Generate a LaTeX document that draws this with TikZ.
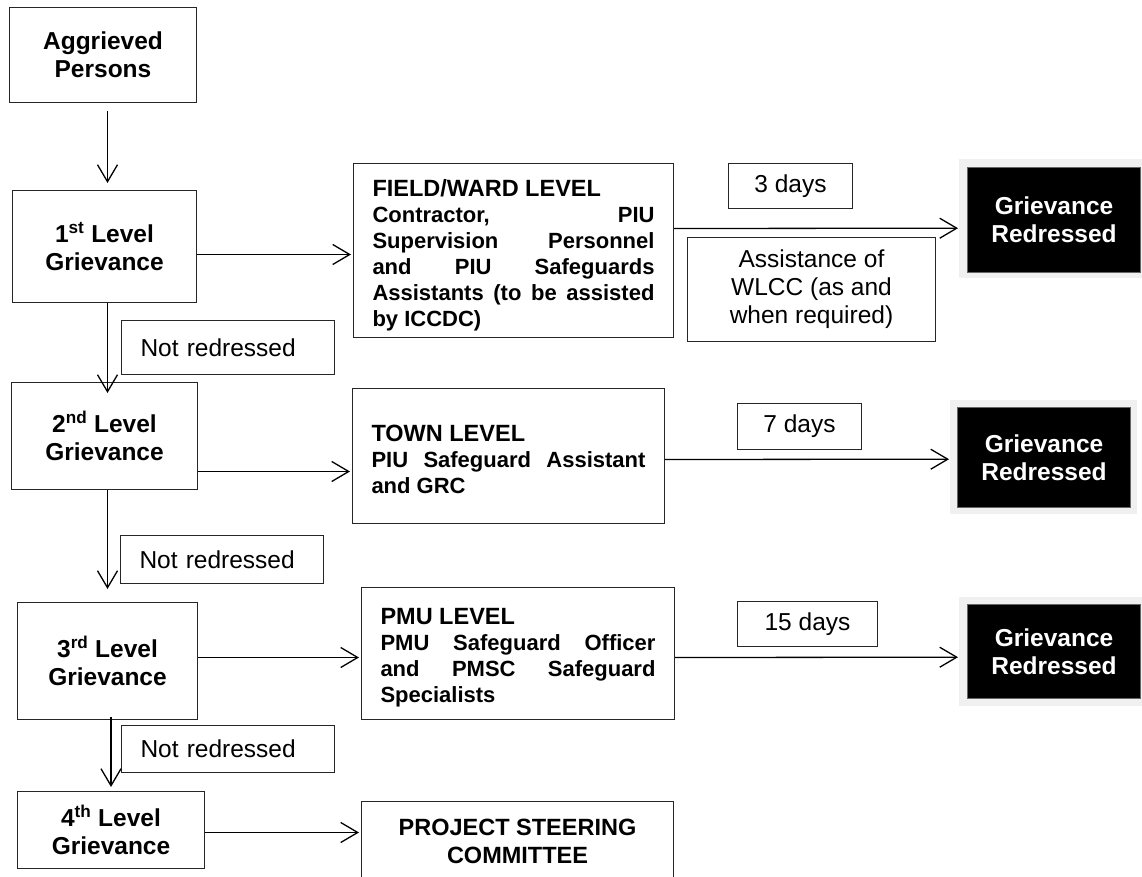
\documentclass[tikz,border=0pt]{standalone}
\usepackage{fontspec}
\setmainfont{Liberation Sans}
\usetikzlibrary{arrows.meta}
\newcommand\jl[1]{\makebox[\linewidth][s]{#1}\\}
\begin{document}
\begin{tikzpicture}[x=1pt,y=-1pt,
  box/.style={draw=black!85, line width=1pt, inner sep=0pt, anchor=north west, align=center},
  lvl/.style={box, font=\bfseries\fontsize{24.5}{28}\selectfont},
  lbl/.style={box, font=\fontsize{24.5}{28}\selectfont},
  nr/.style={box, font=\fontsize{24.5}{28}\selectfont, text width=#1, align=left, inner xsep=19pt},
  arr/.style={line width=1.3pt, -{Straight Barb[length=17pt,width=20pt,line width=1.3pt]}},
  frame/.style={fill=black!6, draw=none, inner sep=0pt, anchor=north west},
  blk/.style={fill=black, draw=black!60, line width=1pt, text=white, inner sep=0pt, anchor=north west, align=center, font=\bfseries\fontsize{24.5}{28}\selectfont},
  body/.style={font=\bfseries\fontsize{22}{26}\selectfont}
]
\useasboundingbox (0,0) rectangle (1142,877);
\clip (0,0) rectangle (1142,877);

% left column
\node[lvl, minimum width=187pt, minimum height=95pt] (A) at (9,7) {Aggrieved\\Persons};
\node[lvl, minimum width=184pt, minimum height=112pt] (L1) at (12,190) {1\textsuperscript{st} Level\\Grievance};
\node[lvl, minimum width=186pt, minimum height=107pt] (L2) at (11,382) {2\textsuperscript{nd} Level\\Grievance};
\node[lvl, minimum width=180pt, minimum height=117pt] (L3) at (17,602) {3\textsuperscript{rd} Level\\Grievance};
\node[lvl, minimum width=187pt, minimum height=77pt] (L4) at (17,791) {4\textsuperscript{th} Level\\Grievance};

\node[nr=175pt, minimum height=54pt] (N1) at (121,320) {Not redressed};
\node[nr=165pt, minimum height=48pt] (N2) at (120,535) {Not redressed};
\node[nr=175pt, minimum height=47pt] (N3) at (121,725) {Not redressed};

% middle column
\node[box, body, minimum width=320pt, minimum height=174pt] (F) at (353,163) {\parbox{282pt}{\vspace*{10pt}{\fontsize{23.5}{26}\selectfont FIELD/WARD LEVEL}\\
\jl{Contractor, PIU}
\jl{Supervision Personnel}
\jl{and PIU Safeguards}
\jl{Assistants (to be assisted}
by ICCDC)}};
\node[box, body, minimum width=312pt, minimum height=135pt] (T) at (352,388) {\parbox{274pt}{\vspace*{7pt}{\fontsize{23.5}{26}\selectfont TOWN LEVEL}\\
\jl{PIU Safeguard Assistant}
and GRC}};
\node[box, body, minimum width=313pt, minimum height=132pt] (P) at (361,587) {\parbox{275pt}{\vspace*{8pt}{\fontsize{23.5}{26}\selectfont PMU LEVEL}\\
\jl{PMU Safeguard Officer}
\jl{and PMSC Safeguard}
Specialists}};
\node[box, minimum width=312pt, minimum height=79pt, font=\bfseries\fontsize{23.5}{28}\selectfont] (PR) at (361,801) {PROJECT STEERING\\COMMITTEE};

% labels
\node[lbl, minimum width=124pt, minimum height=45pt] (D3) at (728,163) {3 days};
\node[lbl, minimum width=248pt, minimum height=104pt] (AS) at (687,237) {Assistance of\\WLCC (as and\\when required)};
\node[lbl, minimum width=124pt, minimum height=46pt] (D7) at (737,403) {7 days};
\node[lbl, minimum width=140pt, minimum height=45pt] (D15) at (737,601) {15 days};

% outcome boxes
\node[frame, minimum width=183pt, minimum height=119pt] (G1f) at (959,159) {};
\node[blk, minimum width=173pt, minimum height=105pt] (G1) at (967,167) {Grievance\\Redressed};
\node[frame, minimum width=187pt, minimum height=114pt] (G2f) at (950,400) {};
\node[blk, minimum width=173pt, minimum height=100pt] (G2) at (957,407) {Grievance\\Redressed};
\node[frame, minimum width=183pt, minimum height=109pt] (G3f) at (959,597) {};
\node[blk, minimum width=173pt, minimum height=94pt] (G3) at (967,604) {Grievance\\Redressed};

% vertical connectors
\draw[arr] ([xshift=4.5pt,yshift=-8pt]A.south) -- ([xshift=3pt,yshift=7pt]L1.north);
\draw[arr] ([xshift=3pt]L1.south) -- ([xshift=3pt,yshift=-11pt]L2.north);
\draw[arr] ([xshift=3pt]L2.south) -- ([yshift=13pt]L3.north);
\draw[arr] ([xshift=3.5pt,yshift=3pt]L3.south) -- ([yshift=4pt]L4.north);

% horizontal connectors
\draw[arr, shorten >=2pt] ([yshift=-8pt]L1.east) -- ([yshift=-4pt]F.west);
\draw[arr, shorten >=2pt] ([yshift=-35.5pt]L2.east) -- ([yshift=-15.5pt]T.west);
\draw[arr, shorten >=2pt] ([yshift=3.5pt]L3.east) -- ([yshift=-4pt]P.west);
\draw[arr, shorten >=2pt] ([yshift=-2.5pt]L4.east) -- ([yshift=8.5pt]PR.west);

\draw[arr, shorten >=1pt] ([yshift=22pt]F.east) -- ([yshift=-9.5pt]G1f.west);
\draw[arr, shorten >=1pt] ([yshift=-3.5pt]T.east) -- ([yshift=-2pt]G2f.west);
\draw[arr, shorten >=1pt] ([yshift=-4pt]P.east) -- ([yshift=-5.5pt]G3f.west);
\end{tikzpicture}
\end{document}
